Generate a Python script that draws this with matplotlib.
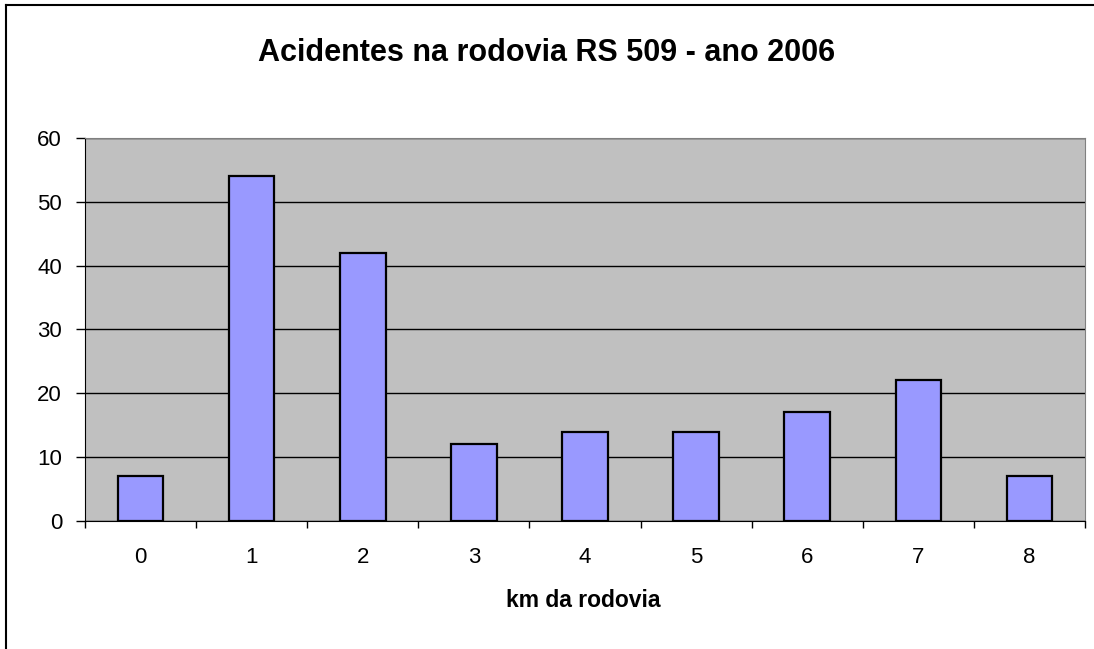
import numpy as np
import matplotlib.pyplot as plt
from matplotlib.lines import Line2D

plt.rcParams['font.family'] = ['Liberation Sans', 'DejaVu Sans']

km = ['0', '1', '2', '3', '4', '5', '6', '7', '8']
acidentes = [7, 54, 42, 12, 14, 14, 17, 22, 7]

fig = plt.figure(figsize=(10.94, 6.49), dpi=100)
# chart frame: only top and left edges are visible in the original
fig.lines.append(Line2D([0.0055, 1.0], [0.9925, 0.9925], transform=fig.transFigure,
                        color='black', linewidth=1.5))
fig.lines.append(Line2D([0.0055, 0.0055], [0.0, 0.9925], transform=fig.transFigure,
                        color='black', linewidth=1.5))

ax = fig.add_axes([0.0777, 0.1975, 0.9141, 0.5898])
ax.set_facecolor('#C0C0C0')

x = np.arange(len(km))
ax.bar(x, acidentes, width=0.41, color='#9999FF', edgecolor='black', linewidth=1.6, zorder=3)

ax.set_xlim(-0.5, len(km) - 0.5)
ax.set_ylim(0, 60)
ax.set_yticks(range(0, 61, 10))
ax.yaxis.grid(True, color='black', linewidth=1, zorder=1)
ax.set_axisbelow(True)

ax.set_xticks(x)
ax.set_xticklabels(km)
ax.set_xticks(np.arange(-0.5, len(km), 1), minor=True)
ax.tick_params(axis='x', which='major', length=0, labelsize=16, pad=19)
ax.tick_params(axis='x', which='minor', length=5, width=1, color='black')
ax.tick_params(axis='y', length=6.5, width=1, labelsize=16, pad=10)

for side in ['top', 'right']:
    ax.spines[side].set_color('#808080')
ax.spines['left'].set_color('black')
ax.spines['bottom'].set_color('black')

fig.text(0.533, 0.074, 'km da rodovia', ha='center', va='center',
         fontsize=16.5, fontweight='bold')
fig.text(0.5, 0.918, 'Acidentes na rodovia RS 509 - ano 2006', ha='center', va='center',
         fontsize=22, fontweight='bold')

fig.savefig('out.png', dpi=100)
